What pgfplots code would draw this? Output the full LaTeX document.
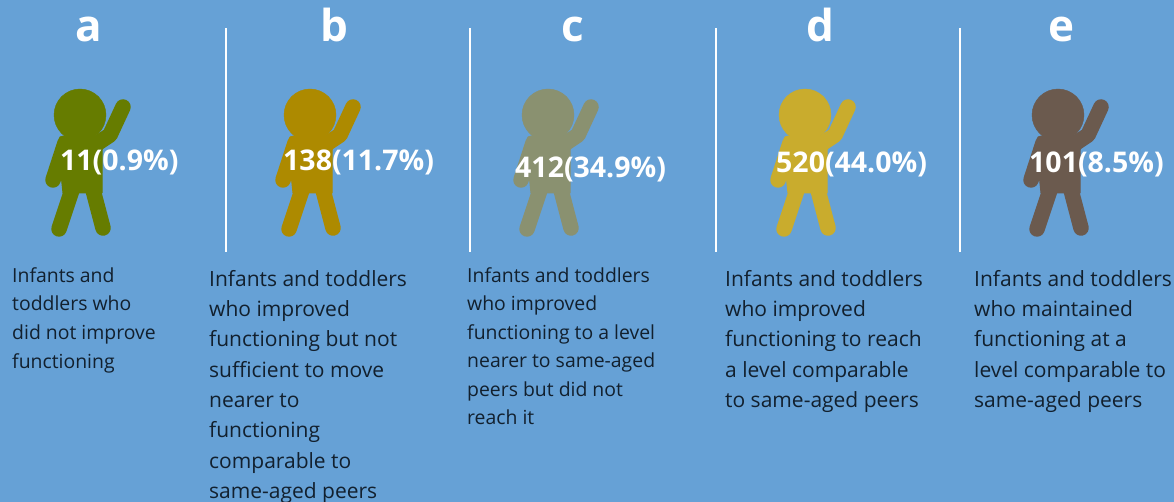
\documentclass[border=0pt]{standalone}
\usepackage{fontspec}
\setmainfont{Open Sans}
\usepackage{pgfplots}
\usepackage{pgfplotstable}
\pgfplotsset{compat=1.18}
\definecolor{bg}{HTML}{66A1D6}
\definecolor{txt}{HTML}{12202E}
\definecolor{colA}{HTML}{667C00}
\definecolor{colB}{HTML}{AD8A00}
\definecolor{colC}{HTML}{8A9170}
\definecolor{colD}{HTML}{C9AC2D}
\definecolor{colE}{HTML}{6B5A4E}

% figure outline, offsets from the head centre (px)
\pgfplotstableread{
x y
-20 22
17 22
24 30
22 35
22 78
-17 78
-21 40
}\torso
\pgfplotstableread{
x y
-15 28
-27 65
}\armL
\pgfplotstableread{
x y
12 32
30 20
43 -8
}\armR
\pgfplotstableread{
x y
-8 75
-21 114
}\legL
\pgfplotstableread{
x y
13 75
23 113
}\legR

\newcommand{\person}[2]{%
  \addplot[#2, fill=#2, draw=#2, line width=1pt, line join=round, mark=none]
    table[x expr=\thisrow{x}+#1, y expr=\thisrow{y}+115] {\torso} -- cycle;
  \addplot[#2, line width=15.5pt, line cap=round, line join=round, mark=none]
    table[x expr=\thisrow{x}+#1, y expr=\thisrow{y}+115] {\armL};
  \addplot[#2, line width=15.5pt, line cap=round, line join=round, mark=none]
    table[x expr=\thisrow{x}+#1, y expr=\thisrow{y}+115] {\armR};
  \addplot[#2, line width=15.5pt, line cap=round, mark=none]
    table[x expr=\thisrow{x}+#1, y expr=\thisrow{y}+115] {\legL};
  \addplot[#2, line width=15.5pt, line cap=round, mark=none]
    table[x expr=\thisrow{x}+#1, y expr=\thisrow{y}+115] {\legR};
  \addplot[only marks, mark=*, mark size=26pt, color=#2, mark options={fill=#2, draw=none}]
    coordinates {(#1,115)};
}
\newcommand{\sep}[1]{\addplot[white, line width=1.2pt, mark=none] coordinates {(#1,28) (#1,252)};}
\newcommand{\letter}[2]{\node[white, anchor=base, font=\fontsize{44}{44}\selectfont\bfseries, inner sep=0pt] at (axis cs:#1,42) {#2};}
\newcommand{\valuelab}[4]{\node[white, anchor=base west, inner sep=0pt, font=\fontsize{28.5}{28.5}\selectfont\bfseries] at (axis cs:#1,#2) {#3(#4\%)};}

\begin{document}
\begin{tikzpicture}
\begin{axis}[
  scale only axis,
  width=1174pt, height=502pt,
  xmin=0, xmax=1174, ymin=0, ymax=502,
  y dir=reverse,
  axis lines=none,
  ticks=none,
]
\addplot[fill=bg, draw=none] coordinates {(0,0) (1174,0) (1174,502) (0,502)} -- cycle;

\person{80}{colA}
\person{310}{colB}
\person{548}{colC}
\person{805}{colD}
\person{1058}{colE}

\sep{226} \sep{470} \sep{716} \sep{960}

\letter{89}{a}
\letter{334}{b}
\letter{573}{c}
\letter{820}{d}
\letter{1061}{e}

\valuelab{60}{171}{11}{0.9}
\valuelab{283}{171}{138}{11.7}
\valuelab{515}{178}{412}{34.9}
\valuelab{776}{173}{520}{44.0}
\valuelab{1029}{173}{101}{8.5}

\node[anchor=north west, inner sep=0pt, align=left, text=txt, font=\fontsize{19.4}{28.9}\selectfont]
  at (axis cs:12,267) {Infants and\\toddlers who\\did not improve\\functioning};
\node[anchor=north west, inner sep=0pt, align=left, text=txt, font=\fontsize{21}{30.3}\selectfont]
  at (axis cs:209,270) {Infants and toddlers\\who improved\\functioning but not\\sufficient to move\\nearer to\\functioning\\comparable to\\same-aged peers};
\node[anchor=north west, inner sep=0pt, align=left, text=txt, font=\fontsize{19.4}{28.5}\selectfont]
  at (axis cs:467,267) {Infants and toddlers\\who improved\\functioning to a level\\nearer to same-aged\\peers but did not\\reach it};
\node[anchor=north west, inner sep=0pt, align=left, text=txt, font=\fontsize{21}{30.3}\selectfont]
  at (axis cs:725,270) {Infants and toddlers\\who improved\\functioning to reach\\a level comparable\\to same-aged peers};
\node[anchor=north west, inner sep=0pt, align=left, text=txt, font=\fontsize{21}{30.3}\selectfont]
  at (axis cs:974,270) {Infants and toddlers\\who maintained\\functioning at a\\level comparable to\\same-aged peers};
\end{axis}
\end{tikzpicture}
\end{document}
